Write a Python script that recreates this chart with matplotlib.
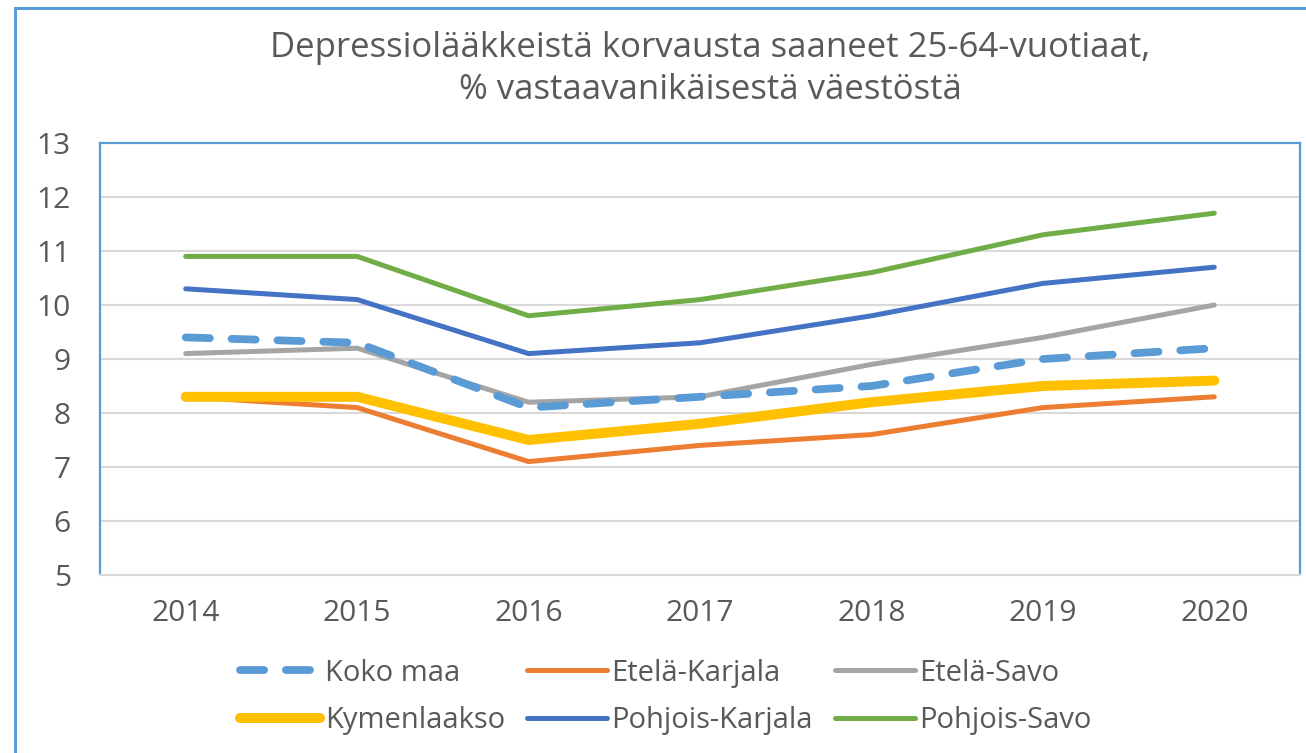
import matplotlib
matplotlib.use("Agg")
import matplotlib.pyplot as plt
from matplotlib.patches import Rectangle

plt.rcParams['font.family'] = ['Open Sans', 'DejaVu Sans']

years = ["2014", "2015", "2016", "2017", "2018", "2019", "2020"]
koko_maa = [9.4, 9.3, 8.1, 8.3, 8.5, 9.0, 9.2]
etela_karjala = [8.3, 8.1, 7.1, 7.4, 7.6, 8.1, 8.3]
etela_savo = [9.1, 9.2, 8.2, 8.3, 8.9, 9.4, 10.0]
kymenlaakso = [8.3, 8.3, 7.5, 7.8, 8.2, 8.5, 8.6]
pohjois_karjala = [10.3, 10.1, 9.1, 9.3, 9.8, 10.4, 10.7]
pohjois_savo = [10.9, 10.9, 9.8, 10.1, 10.6, 11.3, 11.7]
yticks = [5, 6, 7, 8, 9, 10, 11, 12, 13]

title = "Depressiolääkkeistä korvausta saaneet 25-64-vuotiaat,\n% vastaavanikäisestä väestöstä"

W, H = 1306, 753
fig = plt.figure(figsize=(W / 100, H / 100), dpi=100)
txt = '#595959'
blue_border = '#5B9BD5'

# outer chart border
fig.patches.append(Rectangle((15 / W, -0.2), 1.5, 1.2 - 8 / H, transform=fig.transFigure,
                             fill=False, edgecolor=blue_border, linewidth=2.2, clip_on=False))

ax = fig.add_axes([100 / W, 1 - 575 / H, 1200 / W, (575 - 143) / H])
x = list(range(len(years)))

ax.plot(x, etela_karjala, color='#ED7D31', lw=3.6, solid_capstyle='round', solid_joinstyle='round', label='Etelä-Karjala', zorder=3)
ax.plot(x, etela_savo, color='#A5A5A5', lw=3.6, solid_capstyle='round', solid_joinstyle='round', label='Etelä-Savo', zorder=3)
ax.plot(x, kymenlaakso, color='#FFC000', lw=7.2, solid_capstyle='round', solid_joinstyle='round', label='Kymenlaakso', zorder=3)
ax.plot(x, pohjois_karjala, color='#4472C4', lw=3.6, solid_capstyle='round', solid_joinstyle='round', label='Pohjois-Karjala', zorder=3)
ax.plot(x, pohjois_savo, color='#70AD47', lw=3.6, solid_capstyle='round', solid_joinstyle='round', label='Pohjois-Savo', zorder=3)
ax.plot(x, koko_maa, color='#5B9BD5', lw=5.6, dashes=(3.1, 2.8), dash_capstyle='round', label='Koko maa', zorder=4)

ax.set_xlim(-0.5, len(years) - 0.5)
ax.set_ylim(5, 13)
ax.set_yticks(yticks)
ax.set_xticks(x)
ax.set_xticklabels(years)
ax.tick_params(axis='both', length=0, labelsize=21.5, labelcolor=txt)
ax.tick_params(axis='y', pad=21)
ax.tick_params(axis='x', pad=17)
ax.grid(axis='y', color='#D9D9D9', lw=1.5)
ax.set_axisbelow(True)
for s in ['left', 'top', 'right']:
    ax.spines[s].set_color(blue_border)
    ax.spines[s].set_linewidth(1.6)
ax.spines['bottom'].set_color('#D9D9D9')
ax.spines['bottom'].set_linewidth(1.5)

fig.text(710 / W, 1 - 69 / H, title, ha='center', va='center', fontsize=25, color=txt, linespacing=1.3)

h, l = ax.get_legend_handles_labels()
order = ['Koko maa', 'Kymenlaakso', 'Etelä-Karjala', 'Pohjois-Karjala', 'Etelä-Savo', 'Pohjois-Savo']
hd = dict(zip(l, h))
leg = fig.legend([hd[k] for k in order], order, ncol=3, loc='center', bbox_to_anchor=(666 / W, 1 - 697 / H),
                 frameon=False, fontsize=21, labelcolor=txt, handlelength=2.75, handletextpad=0.15,
                 columnspacing=0.75, labelspacing=0.65, borderpad=0)

fig.savefig('out.png', dpi=100, facecolor='white')
